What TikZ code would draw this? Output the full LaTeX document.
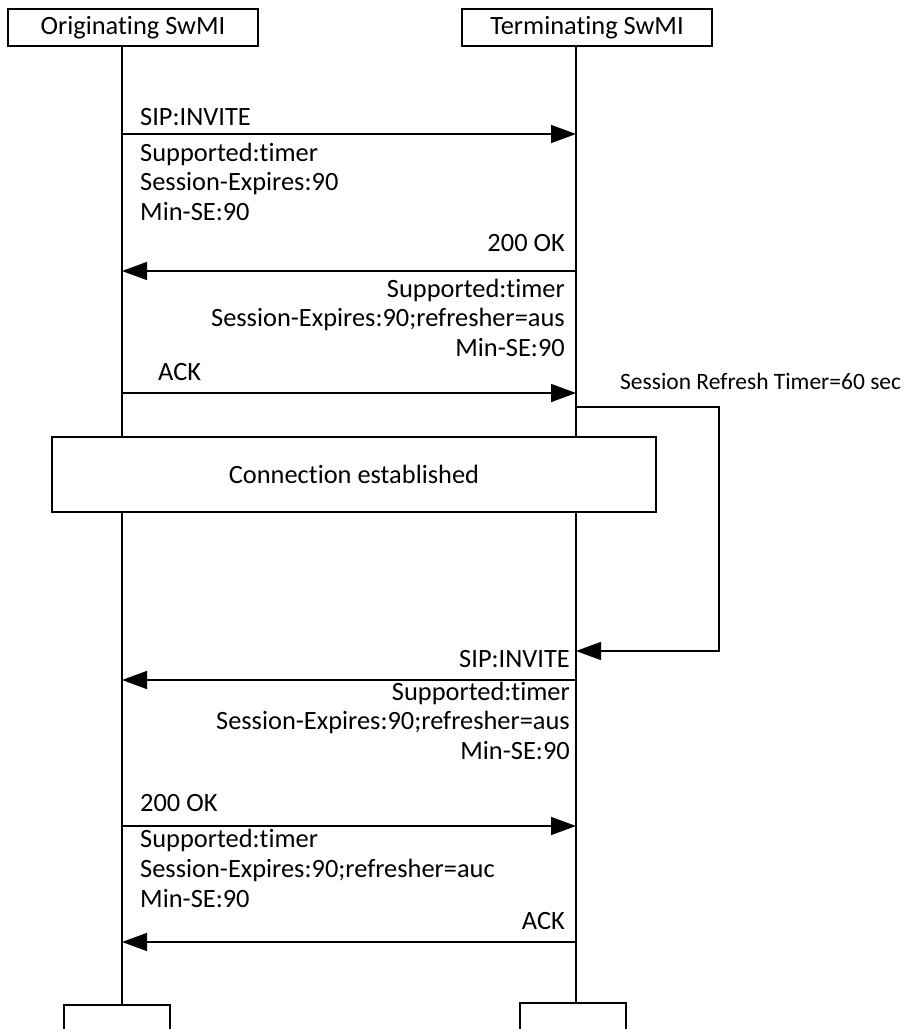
\documentclass[tikz,border=0pt]{standalone}
\usepackage{fontspec}
\setmainfont{Carlito}[Ligatures=NoCommon]
\usetikzlibrary{arrows.meta,positioning}
\tikzstyle{entity}=[
	rectangle,
	draw=black,
	line width=2,
	minimum width=250,
	minimum height=37,
	inner sep=0,
	font=\fontsize{26.4}{29.5}\selectfont]
\tikzstyle{life}=[line width=1.5]
\tikzstyle{msg}=[line width=1.5,-{Triangle[length=25,width=18]}]
\tikzstyle{lbl}=[inner sep=0,font=\fontsize{26.4}{29.5}\selectfont]

\begin{document}
\begin{tikzpicture}[x=1pt,y=-1pt]
		\useasboundingbox (0,0) rectangle (909,1029);
		\coordinate (ol) at (122,0);
		\coordinate (tl) at (576,0);
		\foreach \n/\y in {1/134,2/271,3/393,4/680,5/826,6/942}{
			\coordinate (o\n) at (122,\y);
			\coordinate (t\n) at (576,\y);
		}
		\node[entity] (orig) at (133,27.5) {Originating SwMI};
		\node[entity] (term) at (587,27.5) {Terminating SwMI};
		\node[entity,minimum width=106,minimum height=60] (origend) at (117,1035) {};
		\node[entity,minimum width=106,minimum height=60] (termend) at (573,1033) {};
		\draw[life] (orig.south -| ol) -- (origend.north -| ol);
		\draw[life] (term.south -| tl) -- (termend.north -| tl);
		\node[entity,fill=white,minimum width=604,minimum height=75] (conn) at (354,474.5) {Connection established};

		\draw[msg] (o1) -- (t1);
		\node[lbl,anchor=base west] (inv1) at (140,125) {SIP:INVITE};
		\node[lbl,anchor=base west,align=left] (par1) at (140,220) {Supported:timer\\Session-Expires:90\\Min-SE:90};

		\draw[msg] (t2) -- (o2);
		\node[lbl,anchor=base east] (ok2) at (565,251) {200 OK};
		\node[lbl,anchor=base east,align=right] (par2) at (565,356) {Supported:timer\\Session-Expires:90;refresher=aus\\Min-SE:90};

		\draw[msg] (o3) -- (t3);
		\node[lbl,anchor=base west] (ack3) at (158,380) {ACK};

		\coordinate (r1) at (576,407);
		\coordinate (r2) at (576,651);
		\coordinate (rc) at (719,407);
		\draw[msg] (r1) -- (rc) |- (r2);
		\node[lbl,anchor=base west,font=\fontsize{23.5}{28}\selectfont] (srt) at (620,389) {Session Refresh Timer=60 sec};

		\draw[msg] (t4) -- (o4);
		\node[lbl,anchor=base east] (inv4) at (570,667) {SIP:INVITE};
		\node[lbl,anchor=base east,align=right] (par4) at (570,759) {Supported:timer\\Session-Expires:90;refresher=aus\\Min-SE:90};

		\draw[msg] (o5) -- (t5);
		\node[lbl,anchor=base west] (ok5) at (140,811) {200 OK};
		\node[lbl,anchor=base west,align=left,font=\fontsize{26.4}{30}\selectfont] (par5) at (140,907) {Supported:timer\\Session-Expires:90;refresher=auc\\Min-SE:90};

		\draw[msg] (t6) -- (o6);
		\node[lbl,anchor=base east] (ack6) at (565,929) {ACK};
\end{tikzpicture}
\end{document}
